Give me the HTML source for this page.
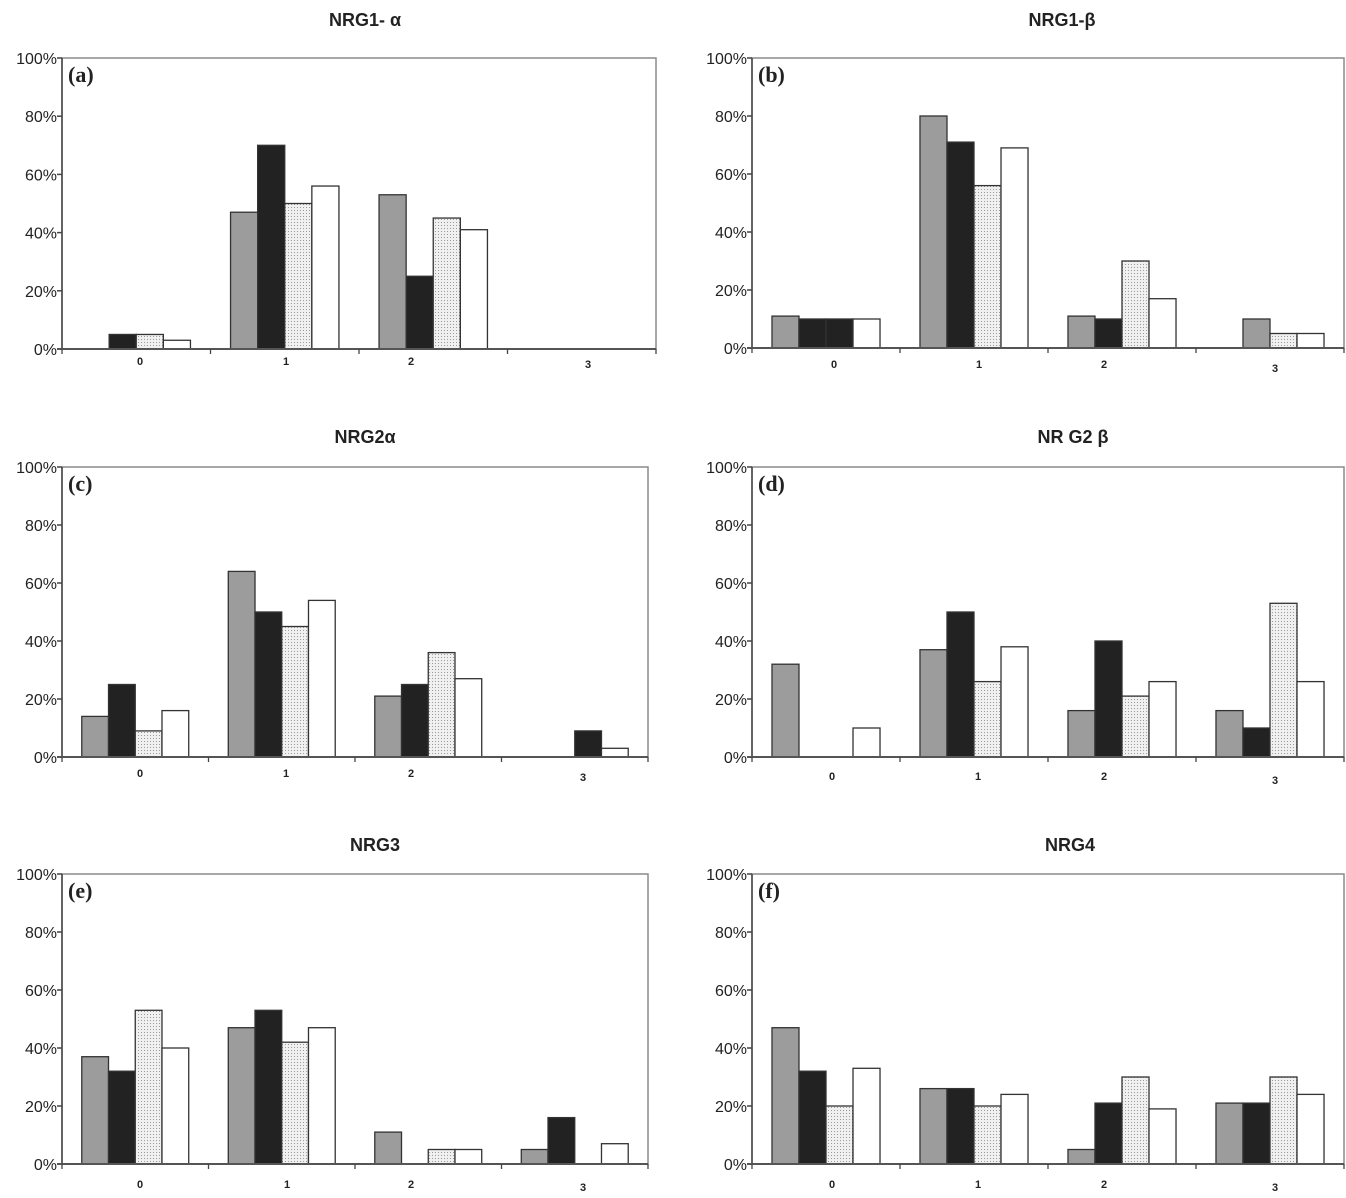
<!DOCTYPE html>
<html><head><meta charset="utf-8"><style>
html,body{margin:0;padding:0;background:#fff;}
svg{display:block}
text{font-family:"Liberation Sans",sans-serif;fill:#222}
</style></head><body>
<svg id="s" width="1346" height="1198" xmlns="http://www.w3.org/2000/svg">
<defs>
<pattern id="dots" width="3" height="3" patternUnits="userSpaceOnUse">
<rect width="3" height="3" fill="#f0f0f0"/><rect width="1" height="1" fill="#9a9a9a"/>
</pattern>
</defs>
</svg>
<script>
var s=document.getElementById('s');var NS='http://www.w3.org/2000/svg';
function el(t,a,txt){var e=document.createElementNS(NS,t);for(var k in a)e.setAttribute(k,a[k]);if(txt!==undefined)e.textContent=txt;s.appendChild(e);return e;}
var fills=['#9c9c9c','#222','url(#dots)','#fff'];
var P=[
{x0:62,x1:656,t:58,b:349,title:'NRG1- α',tx:365,ty:26,lab:'(a)',xl:[[140,365],[286,365],[411,365],[588,368]],
 d:[[[1,5],[2,5],[3,3]],[[0,47],[1,70],[2,50],[3,56]],[[0,53],[1,25],[2,45],[3,41]],[]]},
{x0:752,x1:1344,t:58,b:348,title:'NRG1-β',tx:1062,ty:26,lab:'(b)',xl:[[834,368],[979,368],[1104,368],[1275,372]],
 d:[[[0,11],[1,10],[2,10,'#222'],[3,10]],[[0,80],[1,71],[2,56],[3,69]],[[0,11],[1,10],[2,30],[3,17]],[[1,10,'#9c9c9c'],[2,5],[3,5]]]},
{x0:62,x1:648,t:467,b:757,title:'NRG2α',tx:365,ty:443,lab:'(c)',xl:[[140,777],[286,777],[411,777],[583,781]],
 d:[[[0,14],[1,25],[2,9],[3,16]],[[0,64],[1,50],[2,45],[3,54]],[[0,21],[1,25],[2,36],[3,27]],[[2,9,'#222'],[3,3]]]},
{x0:752,x1:1344,t:467,b:757,title:'NR G2 β',tx:1073,ty:443,lab:'(d)',xl:[[832,780],[978,780],[1104,780],[1275,784]],
 d:[[[0,32],[3,10]],[[0,37],[1,50],[2,26],[3,38]],[[0,16],[1,40],[2,21],[3,26]],[[0,16],[1,10],[2,53],[3,26]]]},
{x0:62,x1:648,t:874,b:1164,title:'NRG3',tx:375,ty:851,lab:'(e)',xl:[[140,1188],[287,1188],[411,1188],[583,1191]],
 d:[[[0,37],[1,32],[2,53],[3,40]],[[0,47],[1,53],[2,42],[3,47]],[[0,11],[2,5],[3,5]],[[0,5],[1,16],[3,7]]]},
{x0:752,x1:1344,t:874,b:1164,title:'NRG4',tx:1070,ty:851,lab:'(f)',xl:[[832,1188],[978,1188],[1104,1188],[1275,1191]],
 d:[[[0,47],[1,32],[2,20],[3,33]],[[0,26],[1,26],[2,20],[3,24]],[[0,5],[1,21],[2,30],[3,19]],[[0,21],[1,21],[2,30],[3,24]]]}
];
P.forEach(function(p){
 var H=p.b-p.t,gw=(p.x1-p.x0)/4;
 el('text',{x:p.tx,y:p.ty,'text-anchor':'middle','font-size':18,'font-weight':'bold'},p.title);
 el('rect',{x:p.x0,y:p.t,width:p.x1-p.x0,height:H,fill:'none',stroke:'#8a8a8a','stroke-width':1.5});
 for(var i=0;i<=5;i++){var y=p.b-H*i/5;
  el('line',{x1:p.x0-5,x2:p.x0,y1:y,y2:y,stroke:'#444','stroke-width':1.5});
  el('text',{x:p.x0-5,y:y+6,'text-anchor':'end','font-size':16},(i*20)+'%');}
 p.d.forEach(function(g,gi){g.forEach(function(b){
  var w=0.1825*gw,x=p.x0+gi*gw+0.135*gw+b[0]*w,h=H*b[1]/100;
  el('rect',{x:x,y:p.b-h,width:w,height:h,fill:b[2]||fills[b[0]],stroke:'#333','stroke-width':1.3});});});
 el('line',{x1:p.x0,x2:p.x0,y1:p.t,y2:p.b,stroke:'#444','stroke-width':1.5});
 el('line',{x1:p.x0-5,x2:p.x1,y1:p.b,y2:p.b,stroke:'#555','stroke-width':2});
 for(var j=0;j<=4;j++){var x=p.x0+j*gw;el('line',{x1:x,x2:x,y1:p.b,y2:p.b+5,stroke:'#444','stroke-width':1.3});}
 p.xl.forEach(function(l,k){el('text',{x:l[0],y:l[1],'text-anchor':'middle','font-size':11,'font-weight':'bold'},''+k);});
 el('text',{x:p.x0+6,y:p.t+24,'font-size':22,'font-weight':'bold','font-family':'Liberation Serif, serif',style:'font-family:"Liberation Serif",serif'},p.lab);
});
</script>
</body></html>
